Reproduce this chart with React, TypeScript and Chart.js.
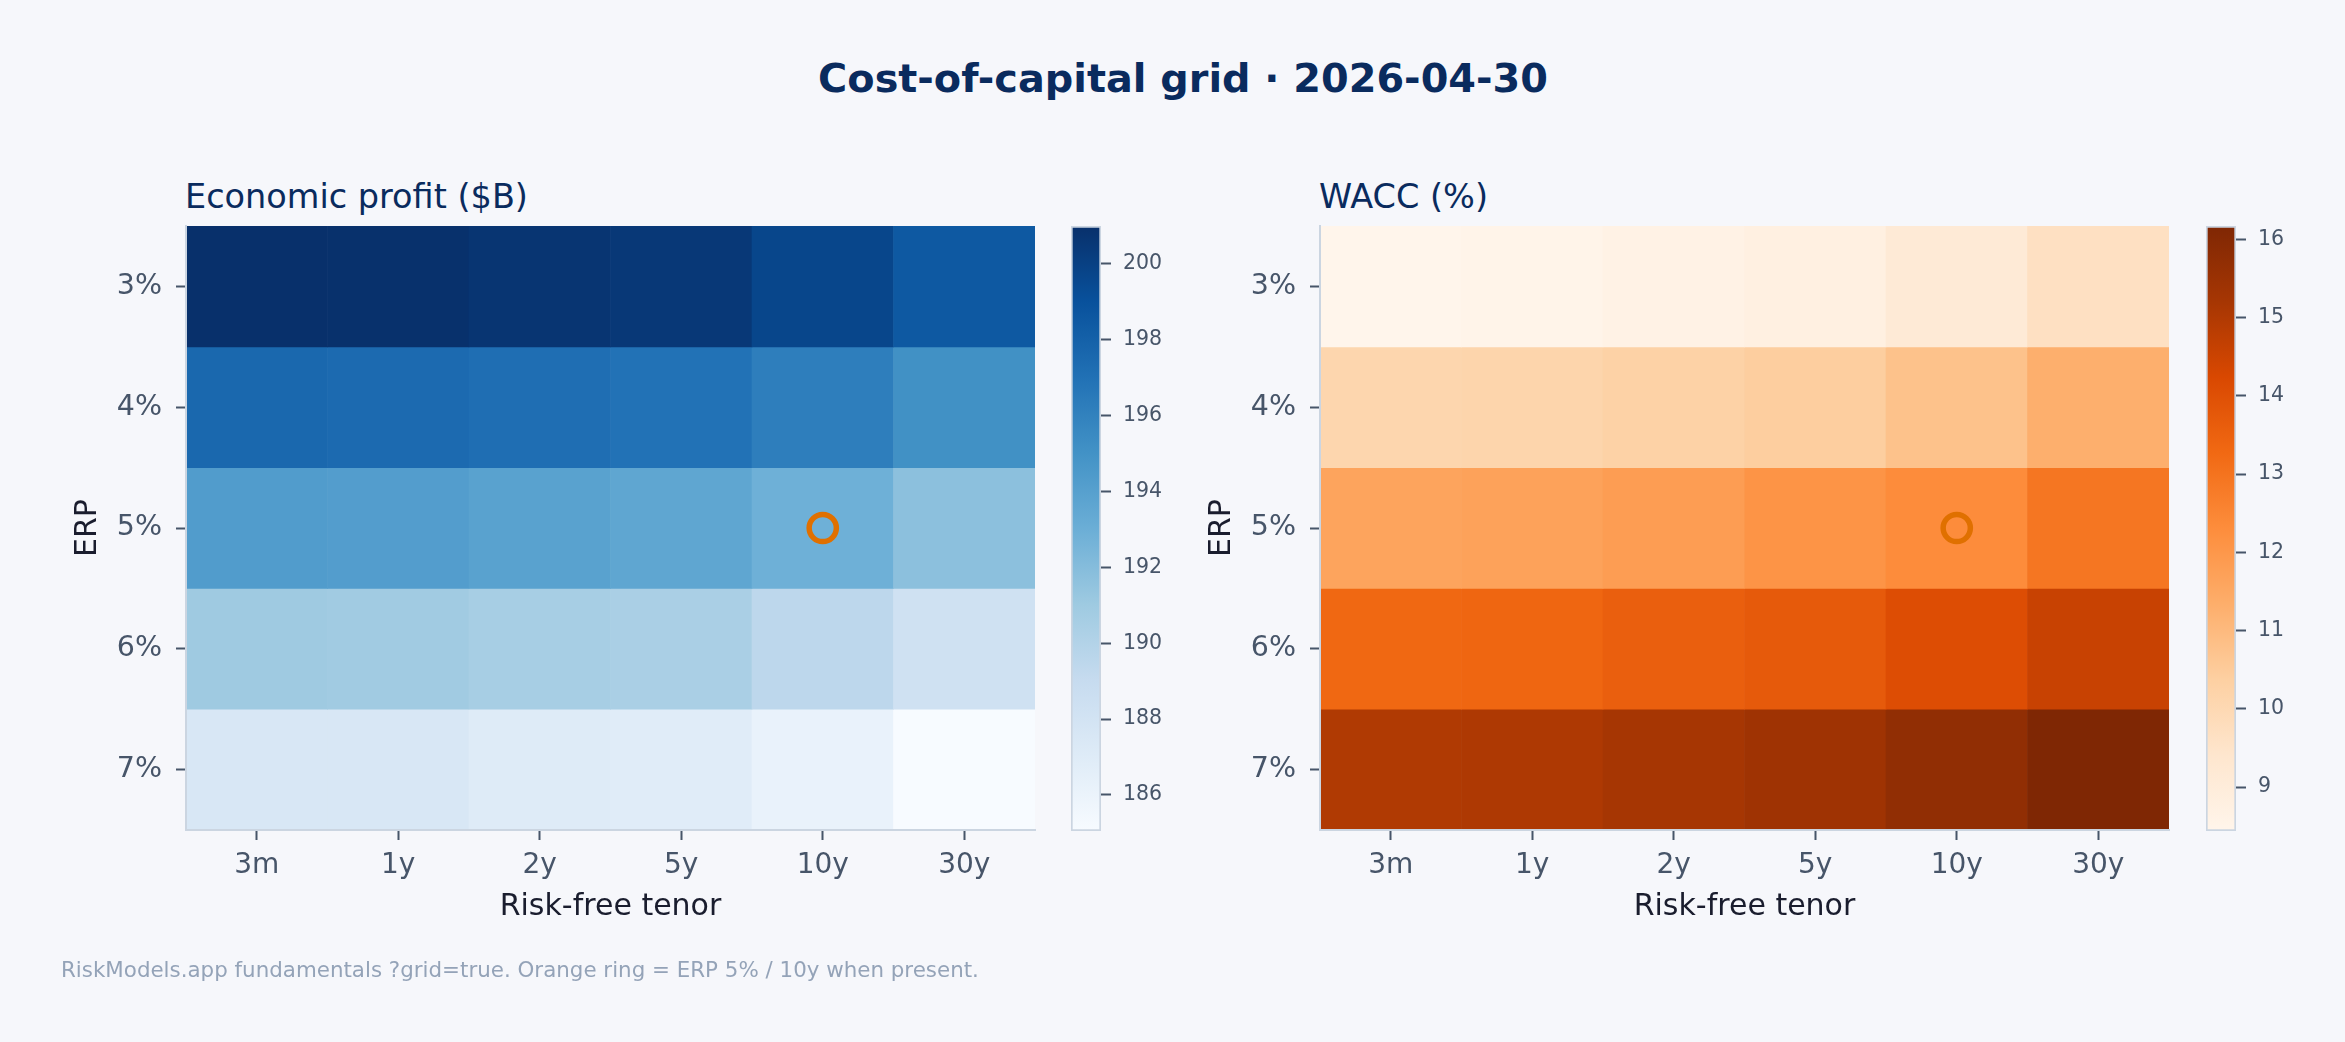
import React, { useEffect, useRef } from 'react';
import { Chart, registerables } from 'chart.js';

Chart.register(...registerables);
Chart.defaults.font.family = '"DejaVu Sans", sans-serif';

// Grid axes
const TENORS = ['3m', '1y', '2y', '5y', '10y', '30y'];
const ERP_LEVELS = ['3%', '4%', '5%', '6%', '7%'];

// Economic profit ($B), one row per ERP level, one column per tenor
const ECON_PROFIT = [
  [201.0, 200.95, 200.7, 200.5, 199.7, 198.5],
  [197.6, 197.45, 197.2, 196.95, 196.2, 195.1],
  [194.3, 194.2, 193.9, 193.6, 192.9, 191.75],
  [191.0, 190.9, 190.6, 190.45, 189.5, 188.3],
  [187.55, 187.55, 187.05, 186.9, 186.15, 185.05],
];

// WACC (%), same layout
const WACC = [
  [8.44, 8.5, 8.63, 8.76, 9.15, 9.67],
  [10.11, 10.16, 10.29, 10.43, 10.77, 11.31],
  [11.63, 11.69, 11.83, 12.1, 12.33, 12.92],
  [13.3, 13.36, 13.56, 13.71, 14.09, 14.56],
  [15.01, 15.06, 15.2, 15.38, 15.72, 16.17],
];

// Colorbar tick labels
const EP_CBAR_TICKS = [186, 188, 190, 192, 194, 196, 198, 200];
const WACC_CBAR_TICKS = [9, 10, 11, 12, 13, 14, 15, 16];

// Highlighted base case
const RING_ERP = '5%';
const RING_TENOR = '10y';

const BLUES = ['#f7fbff', '#deebf7', '#c6dbef', '#9ecae1', '#6baed6', '#4292c6', '#2171b5', '#08519c', '#08306b'];
const ORANGES = ['#fff5eb', '#fee6ce', '#fdd0a2', '#fdae6b', '#fd8d3c', '#f16913', '#d94801', '#a63603', '#7f2704'];

const BG = '#f6f7fb';
const NAVY = '#0a2b5e';
const TICK_COLOR = '#475569';
const LABEL_COLOR = '#1a1d2e';
const SPINE = '#cbd5e1';
const RING_COLOR = '#e07000';

function hexToRgb(h: string) {
  const n = parseInt(h.slice(1), 16);
  return [(n >> 16) & 255, (n >> 8) & 255, n & 255];
}

function sample(stops: string[], t: number) {
  const c = Math.max(0, Math.min(1, t)) * (stops.length - 1);
  const i = Math.min(stops.length - 2, Math.floor(c));
  const f = c - i;
  const a = hexToRgb(stops[i]);
  const b = hexToRgb(stops[i + 1]);
  const m = a.map((v, k) => Math.round(v + (b[k] - v) * f));
  return `rgb(${m[0]},${m[1]},${m[2]})`;
}

function extent(values: number[][]) {
  const flat = values.flat();
  return [Math.min(...flat), Math.max(...flat)];
}

const PANEL_W = 1060;
const PANEL_H = 960;

function Heatmap({ left, values, stops }: { left: number; values: number[][]; stops: string[] }) {
  const ref = useRef<HTMLCanvasElement>(null);
  useEffect(() => {
    if (!ref.current) return;
    const [lo, hi] = extent(values);
    const color = (v: number) => sample(stops, (v - lo) / (hi - lo));
    const datasets: any[] = [
      {
        type: 'line',
        data: [{ x: RING_TENOR, y: ERP_LEVELS.indexOf(RING_ERP) }],
        showLine: false,
        pointRadius: 13.6,
        pointHoverRadius: 13.6,
        pointBorderWidth: 5.5,
        pointBorderColor: RING_COLOR,
        pointBackgroundColor: 'rgba(0,0,0,0)',
        order: 0,
      },
      ...values.map((row, r) => ({
        type: 'bar',
        label: ERP_LEVELS[r],
        data: row.map(() => [r - 0.5, r + 0.5]),
        backgroundColor: row.map(color),
        borderWidth: 0,
        grouped: false,
        barPercentage: 1,
        categoryPercentage: 1,
        order: 1,
      })),
    ];
    const axisGrid = {
      display: true,
      drawOnChartArea: false,
      drawTicks: true,
      tickLength: 10,
      tickWidth: 2,
      tickColor: TICK_COLOR,
      offset: false,
    };
    const border = { display: true, color: SPINE, width: 2, z: 1 };
    const chart = new Chart(ref.current, {
      type: 'bar',
      data: { labels: TENORS, datasets },
      options: {
        responsive: false,
        animation: false,
        events: [],
        layout: { padding: { top: 226, right: 25, bottom: 0, left: 0 } },
        plugins: { legend: { display: false }, tooltip: { enabled: false } },
        scales: {
          x: {
            type: 'category',
            offset: true,
            grid: axisGrid,
            border,
            ticks: { font: { size: 28 }, color: TICK_COLOR, padding: 9, maxRotation: 0, autoSkip: false },
            title: {
              display: true,
              text: 'Risk-free tenor',
              font: { size: 30 },
              color: LABEL_COLOR,
              padding: { top: 0, bottom: 35 },
            },
            afterFit: (s: any) => {
              s.height = 130;
            },
          },
          y: {
            type: 'linear',
            min: -0.5,
            max: 4.5,
            reverse: true,
            grid: axisGrid,
            border,
            afterBuildTicks: (s: any) => {
              s.ticks = ERP_LEVELS.map((_, i) => ({ value: i }));
            },
            ticks: {
              font: { size: 28.5 },
              color: TICK_COLOR,
              padding: 14,
              callback: (v: any) => ERP_LEVELS[Math.round(Number(v))] ?? '',
            },
            title: {
              display: true,
              text: 'ERP',
              font: { size: 30 },
              color: LABEL_COLOR,
              padding: { top: 70, bottom: 0 },
            },
            afterFit: (s: any) => {
              s.width = 186;
            },
          },
        },
      } as any,
    });
    return () => chart.destroy();
  }, []);
  return (
    <canvas
      ref={ref}
      width={PANEL_W}
      height={PANEL_H}
      style={{ position: 'absolute', left, top: 0, width: PANEL_W, height: PANEL_H }}
    />
  );
}

const CBAR_W = 130;

function Colorbar({ left, values, stops, ticks }: { left: number; values: number[][]; stops: string[]; ticks: number[] }) {
  const ref = useRef<HTMLCanvasElement>(null);
  useEffect(() => {
    if (!ref.current) return;
    const [lo, hi] = extent(values);
    const fill = (ctx: any) => {
      const chart = ctx.chart;
      const y = chart.scales && chart.scales.y;
      if (!chart.chartArea || !y) return stops[0];
      const g = chart.ctx.createLinearGradient(0, y.getPixelForValue(lo), 0, y.getPixelForValue(hi));
      stops.forEach((c, i) => g.addColorStop(i / (stops.length - 1), c));
      return g;
    };
    const chart = new Chart(ref.current, {
      type: 'bar',
      data: {
        labels: [''],
        datasets: [
          {
            data: [[lo, hi]],
            backgroundColor: fill,
            borderColor: SPINE,
            borderWidth: 2,
            borderSkipped: false,
            barPercentage: 1,
            categoryPercentage: 1,
          },
        ],
      },
      options: {
        responsive: false,
        animation: false,
        events: [],
        layout: { padding: { top: 226, right: 0, bottom: 1042 - 831, left: 11 } },
        plugins: { legend: { display: false }, tooltip: { enabled: false } },
        scales: {
          x: { display: false },
          y: {
            type: 'linear',
            position: 'right',
            min: lo,
            max: hi,
            afterBuildTicks: (s: any) => {
              s.ticks = ticks.map((v) => ({ value: v }));
            },
            grid: {
              display: true,
              drawOnChartArea: false,
              tickLength: 10,
              tickWidth: 2,
              tickColor: TICK_COLOR,
            },
            border: { display: false },
            ticks: { font: { size: 20.5 }, color: TICK_COLOR, padding: 12 },
            afterFit: (s: any) => {
              s.width = CBAR_W - 41;
            },
          },
        },
      } as any,
    });
    return () => chart.destroy();
  }, []);
  return (
    <canvas
      ref={ref}
      width={CBAR_W}
      height={1042}
      style={{ position: 'absolute', left, top: 0, width: CBAR_W, height: 1042 }}
    />
  );
}

const textBase: React.CSSProperties = {
  position: 'absolute',
  whiteSpace: 'nowrap',
  lineHeight: 1,
  fontFamily: '"DejaVu Sans", sans-serif',
};

export default function App() {
  return (
    <div
      style={{
        position: 'absolute',
        left: 0,
        top: 0,
        width: 2345,
        height: 1042,
        background: BG,
        overflow: 'hidden',
      }}
    >
      <div
        style={{
          ...textBase,
          left: 1183,
          top: 59,
          transform: 'translateX(-50%)',
          fontSize: 39.8,
          fontWeight: 'bold',
          color: NAVY,
        }}
      >
        Cost-of-capital grid · 2026-04-30
      </div>
      <div style={{ ...textBase, left: 185, top: 180, fontSize: 33.5, color: NAVY }}>Economic profit ($B)</div>
      <div style={{ ...textBase, left: 1319, top: 180, fontSize: 33.5, color: NAVY }}>WACC (%)</div>

      <Heatmap left={0} values={ECON_PROFIT} stops={BLUES} />
      <Colorbar left={1060} values={ECON_PROFIT} stops={BLUES} ticks={EP_CBAR_TICKS} />
      <Heatmap left={1134} values={WACC} stops={ORANGES} />
      <Colorbar left={2195} values={WACC} stops={ORANGES} ticks={WACC_CBAR_TICKS} />

      <div style={{ ...textBase, left: 61, top: 958.5, fontSize: 21.4, color: '#94a3b8' }}>
        RiskModels.app fundamentals ?grid=true. Orange ring = ERP 5% / 10y when present.
      </div>
    </div>
  );
}
